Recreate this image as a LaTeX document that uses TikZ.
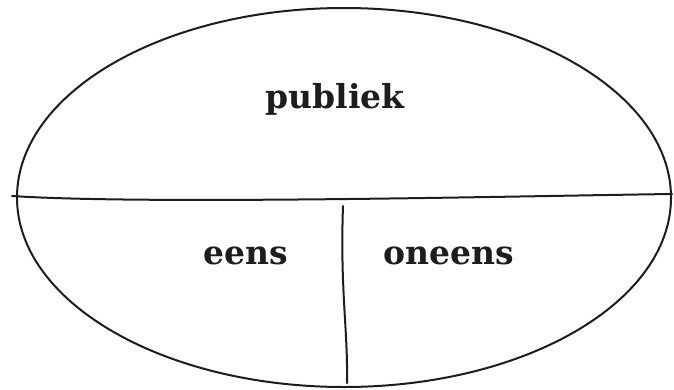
\documentclass[tikz,border=0pt]{standalone}
\usepackage{fontspec}
\setmainfont{DejaVu Serif}
\usepackage{xcolor}
\definecolor{Ink}{RGB}{30,28,30}
\usepackage{tikz}
\tikzstyle{Edge}=[draw=Ink,line width=2pt,line cap=round]
\tikzstyle{Label}=[text=Ink,font=\fontsize{33}{38}\selectfont\bfseries,inner sep=0pt]

\begin{document}
\begin{tikzpicture}[x=1pt,y=-1pt]
        \useasboundingbox(0,0)rectangle(674,389);
        \node[Label](publiek)at(335,99){publiek};
        \node[Label](eens)at(246,256){eens};
        \node[Label](oneens)at(449,256){oneens};
        \coordinate(l)at(12,196);
        \coordinate(r)at(672,194);
        \coordinate(t)at(343,206);
        \coordinate(b)at(347,383);
        \draw[Edge](344,197.5)ellipse[x radius=327pt,y radius=189.5pt];
        \draw[Edge](l)..controls(150,205)and(520,196)..(r);
        \draw[Edge](t)..controls(340,290)and(348,330)..(b);
    \end{tikzpicture}
\end{document}
